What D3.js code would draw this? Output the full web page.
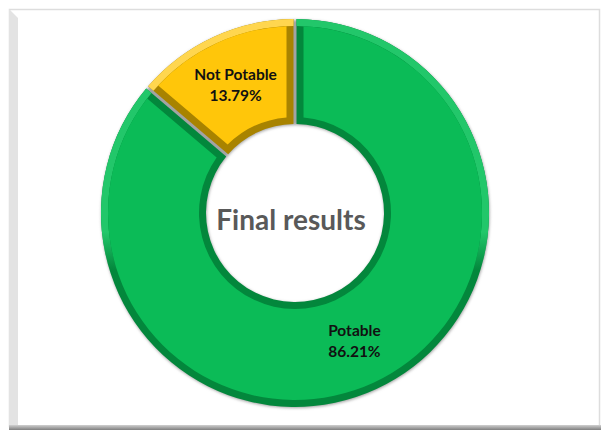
<!DOCTYPE html>
<html>
<head>
<meta charset="utf-8">
<script src="https://cdn.jsdelivr.net/npm/d3@7/dist/d3.min.js"></script>
<style>
  body { margin: 0; background: #fff; }
  text { font-family: Lato, "Open Sans", sans-serif; font-weight: bold; }
</style>
</head>
<body>
<svg id="chart" width="601" height="430"></svg>
<script>
(function(){

	// data
	var categories = ["Potable", "Not Potable"];
	var values = [86.21, 13.79];
	var valueLabels = ["86.21%", "13.79%"];
	var centerTitle = "Final results";

	var cx = 295, cy = 213;
	var rOut = 194, rIn = 89;
	var bw = 7;             // bevel band width
	var padR = Math.sqrt(rIn * rIn + rOut * rOut);

	var mainColor = d3.scaleOrdinal().domain(categories).range(["#0bbb57", "#ffc60a"]);
	var darkColor = d3.scaleOrdinal().domain(categories).range(["#03873c", "#a88300"]);
	var lightColor = d3.scaleOrdinal().domain(categories).range(["#22c76a", "#ffd64f"]);

	var svg = d3.select("#chart");
	var defs = svg.append("defs");

	// frame
	var bottomGrad = defs.append("linearGradient").attr("id", "bottomGrad")
		.attr("x1", 0).attr("y1", 0).attr("x2", 0).attr("y2", 1);
	bottomGrad.append("stop").attr("offset", "0%").attr("stop-color", "#d0d0d0");
	bottomGrad.append("stop").attr("offset", "100%").attr("stop-color", "#7f7f7f");

	svg.append("rect")
		.attr("x", 9.5).attr("y", 9.5).attr("width", 590).attr("height", 417)
		.attr("fill", "#fff").attr("stroke", "#dddddd").attr("stroke-width", 1.5);
	svg.append("path")
		.attr("d", "M9,9 L18,18 L18,426 L9,426 Z")
		.attr("fill", "#e3e3e3");
	svg.append("rect")
		.attr("x", 9).attr("y", 425).attr("width", 592).attr("height", 5)
		.attr("fill", "url(#bottomGrad)");

	// soft shadow under the ring
	var blur = defs.append("filter").attr("id", "shadowBlur")
		.attr("x", "-10%").attr("y", "-10%").attr("width", "120%").attr("height", "120%");
	blur.append("feGaussianBlur").attr("stdDeviation", 1.4);

	// gradient overlays for the bevel light (light from the top)
	categories.forEach(function(c, i){
		var t = defs.append("linearGradient").attr("id", "top" + i)
			.attr("gradientUnits", "userSpaceOnUse")
			.attr("x1", 0).attr("y1", cy - rOut).attr("x2", 0).attr("y2", cy - rOut + 38);
		t.append("stop").attr("offset", "0%").attr("stop-color", lightColor(c)).attr("stop-opacity", 1);
		t.append("stop").attr("offset", "100%").attr("stop-color", lightColor(c)).attr("stop-opacity", 0);

		var g = defs.append("linearGradient").attr("id", "inner" + i)
			.attr("gradientUnits", "userSpaceOnUse")
			.attr("x1", 0).attr("y1", cy - 20).attr("x2", 0).attr("y2", cy + rIn);
		g.append("stop").attr("offset", "0%").attr("stop-color", mainColor(c)).attr("stop-opacity", 0);
		g.append("stop").attr("offset", "100%").attr("stop-color", mainColor(c)).attr("stop-opacity", 0.75);
	});

	var pie = d3.pie().sort(null).value(function(d){ return d; });
	var arcs = pie(values);

	var g = svg.append("g").attr("transform", "translate(" + cx + "," + cy + ")");

	var fullArc = d3.arc().innerRadius(rIn).outerRadius(rOut);
	var sliceArc = d3.arc().innerRadius(rIn).outerRadius(rOut).padAngle(3 / padR).padRadius(padR);
	var faceArc = d3.arc().innerRadius(rIn + bw).outerRadius(rOut - bw).padAngle((3 + 2 * bw) / padR).padRadius(padR);
	var outerBand = d3.arc().innerRadius(rOut - bw).outerRadius(rOut).padAngle(3 / padR).padRadius(padR);
	var innerBand = d3.arc().innerRadius(rIn).outerRadius(rIn + bw).padAngle(3 / padR).padRadius(padR);

	// gray shadow / separators
	g.append("path")
		.attr("d", fullArc({startAngle: 0, endAngle: 2 * Math.PI}))
		.attr("transform", "translate(0.5,1)")
		.attr("fill", "#a3a3a3")
		.attr("filter", "url(#shadowBlur)");

	var slices = g.selectAll(".slice").data(arcs).enter().append("g").attr("class", "slice");

	slices.append("path")
		.attr("d", sliceArc)
		.attr("fill", function(d, i){ return darkColor(categories[i]); });
	slices.append("path")
		.attr("d", outerBand)
		.attr("fill", function(d, i){ return "url(#top" + i + ")"; });
	slices.append("path")
		.attr("d", innerBand)
		.attr("fill", function(d, i){ return "url(#inner" + i + ")"; });
	slices.append("path")
		.attr("d", faceArc)
		.attr("fill", function(d, i){ return mainColor(categories[i]); });

	// data labels
	var labelArc = d3.arc().innerRadius(rIn).outerRadius(rOut);
	var lbl = slices.append("text")
		.attr("transform", function(d){ return "translate(" + labelArc.centroid(d) + ")"; })
		.attr("text-anchor", "middle")
		.attr("fill", "#111")
		.style("font-size", "15.5px");
	lbl.append("tspan").attr("x", 0).attr("y", -5)
		.text(function(d, i){ return categories[i]; });
	lbl.append("tspan").attr("x", 0).attr("y", 16)
		.text(function(d, i){ return valueLabels[i]; });

	// center title
	g.append("text")
		.attr("x", -4).attr("y", 17)
		.attr("text-anchor", "middle")
		.attr("fill", "#595959")
		.style("font-size", "28px")
		.text(centerTitle);

})();
</script>
</body>
</html>
